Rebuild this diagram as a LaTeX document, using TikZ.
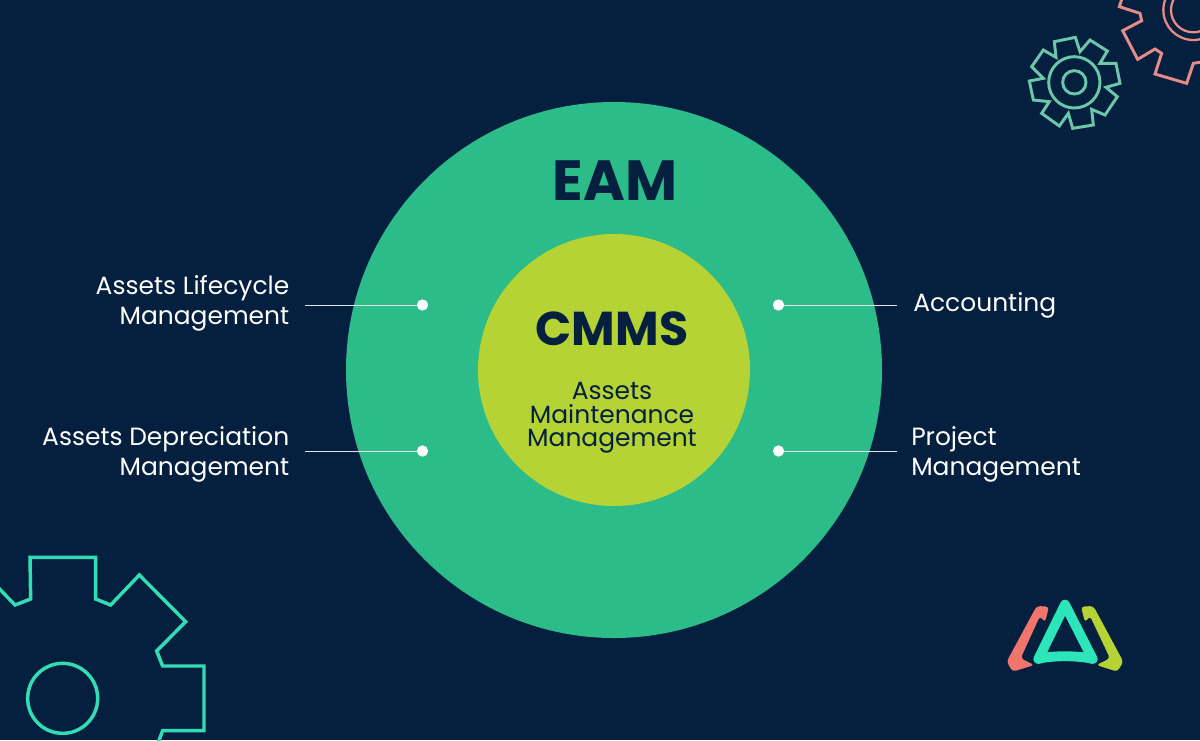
\documentclass[tikz,border=0pt]{standalone}
\usepackage{fontspec}
\setmainfont{Poppins}
\usepackage{xcolor}
\definecolor{mybg}{HTML}{05203F}
\definecolor{myeam}{HTML}{2BBC8A}
\definecolor{mycmms}{HTML}{B5D334}
\definecolor{mycoral}{HTML}{E58C88}
\definecolor{mygear}{HTML}{6CC6A9}
\definecolor{mybiggear}{HTML}{32DDB6}
\definecolor{mylogored}{HTML}{F0756C}
\definecolor{mylogoteal}{HTML}{2CE6B9}
\definecolor{myline}{HTML}{DCE6EA}
\tikzstyle{disc} = [circle, inner sep=0pt, outer sep=0pt]
\tikzstyle{dot} = [circle, fill=white, inner sep=0pt, outer sep=0pt, minimum size=8.5pt]
\tikzstyle{ln} = [draw=myline, line width=0.7pt]
\tikzstyle{lbl} = [text=white, inner sep=0pt, font={\fontsize{18.7}{22.5}\selectfont}]
\tikzstyle{gearln} = [line join=miter, fill=none]
\tikzstyle{logoln} = [rounded corners=2.5pt]
\begin{document}
\begin{tikzpicture}[x=0.75pt, y=-0.75pt]
  \useasboundingbox (0,0) rectangle (1200,740);
  \clip (0,0) rectangle (1200,740);
  \fill[mybg] (0,0) rectangle (1200,740);
  % circles
  \node[disc, fill=myeam, minimum size=402pt] (eam) at (614,370) {};
  \node[disc, fill=mycmms, minimum size=204pt] (cmms) at (614,370) {};
  \node[text=mybg, font={\fontsize{42.5}{43}\selectfont\bfseries}, inner sep=0pt] (eamtxt) at (615,181) {EAM};
  \node[text=mybg, font={\fontsize{35.6}{36}\selectfont\bfseries}, inner sep=0pt] (cmmstxt) at (612,329) {CMMS};
  \node[text=mybg, align=center, inner sep=0pt, font={\fontsize{18.7}{17.6}\selectfont}] (amm) at (612,418) {Assets\\Maintenance\\Management};
  % labels
  \node[lbl, align=right, anchor=east] (life) at (289.5,303) {Assets Lifecycle\\Management};
  \node[lbl, align=right, anchor=east] (depr) at (289.5,454) {Assets Depreciation\\Management};
  \node[lbl, align=left, anchor=west] (acc) at (913,305) {Accounting};
  \node[lbl, align=left, anchor=west] (proj) at (911,454) {Project\\Management};
  % connectors
  \node[dot] (d1) at (422.5,305) {};
  \node[dot] (d2) at (422.5,451) {};
  \node[dot] (d3) at (778.5,305) {};
  \node[dot] (d4) at (778.5,451) {};
  \coordinate (e1) at (305,305);
  \coordinate (e2) at (305,451);
  \coordinate (e3) at (897,305);
  \coordinate (e4) at (897,451);
  \draw[ln] (e1) -- (d1);
  \draw[ln] (e2) -- (d2);
  \draw[ln] (d3) -- (e3);
  \draw[ln] (d4) -- (e4);
  % small gear
  \begin{scope}[shift={(1000,0)}, x=0.25pt, y=-0.25pt]
    \draw[gearln, draw=mygear, line width=2.2pt] (163,125) -- (226,112) -- (240,155) -- (270,120) -- (322,153) -- (300,190) -- (348,190) -- (360,250) -- (318,262) -- (352,290) -- (315,345) -- (275,328) -- (280,375) -- (218,385) -- (205,340) -- (178,378) -- (125,340) -- (148,305) -- (100,300) -- (88,243) -- (130,235) -- (95,200) -- (130,150) -- (168,172) -- cycle;
    \draw[draw=mygear, line width=2.2pt] (223,247) circle[radius=77];
    \draw[draw=mygear, line width=2.2pt] (223,247) circle[radius=35];
    % coral gear
    \draw[gearln, draw=mycoral, line width=2.2pt] (366,-5) -- (358,20) -- (420,40) -- (425,62) -- (368,92) -- (413,178) -- (465,147) -- (485,160) -- (465,222) -- (560,250) -- (580,190) -- (610,185);
    \draw[draw=mycoral, line width=1.7pt] (580,30) circle[radius=90];
    \draw[draw=mycoral, line width=1.7pt] (580,30) circle[radius=67];
  \end{scope}
  % big gear
  \begin{scope}[shift={(0,540)}, x=0.25pt, y=-0.25pt]
    \draw[gearln, draw=mybiggear, line width=2.6pt] (-10,138) -- (45,195) -- (92,177) -- (90,52) -- (287,52) -- (287,177) -- (332,195) -- (418,105) -- (557,245) -- (470,333) -- (488,378) -- (612,378) -- (612,572) -- (488,572) -- (470,620);
    \draw[draw=mybiggear, line width=2.6pt] (188,475) circle[radius=105];
  \end{scope}
  % logo
  \begin{scope}[shift={(1000,590)}, x=0.25pt, y=-0.25pt]
    \fill[logoln, mylogored] (110,48) -- (147,50) -- (135,97) -- (120,78) -- (62,205) -- (103,225) -- (38,245) -- (20,215) -- cycle;
    \fill[logoln, mycmms] (280,48) -- (243,50) -- (255,97) -- (270,78) -- (330,205) -- (289,225) -- (352,245) -- (370,215) -- cycle;
    \draw[line join=round, draw=mylogoteal, line width=7.4pt] (195,44) -- (115,207) .. controls (150,196) and (240,196) .. (278,207) -- cycle;
  \end{scope}
\end{tikzpicture}
\end{document}
